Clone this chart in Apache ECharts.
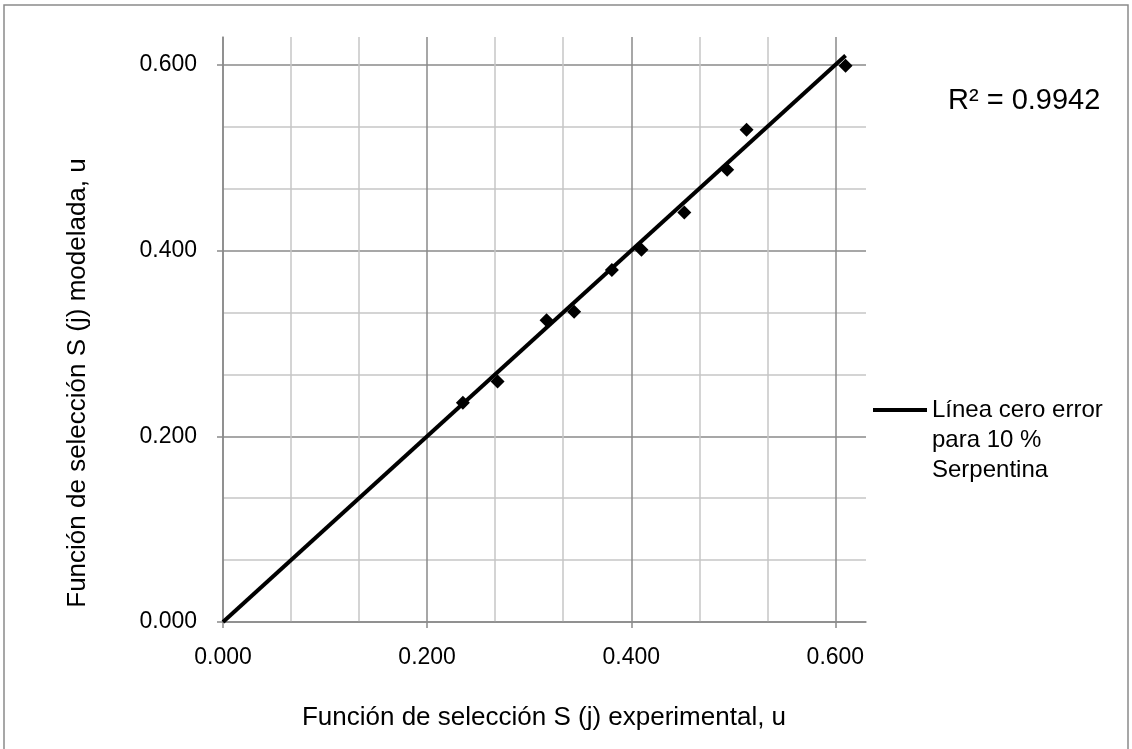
<!DOCTYPE html>
<html>
<head>
<meta charset="utf-8">
<script src="https://cdn.jsdelivr.net/npm/echarts@6/dist/echarts.min.js"></script>
<style>
  html, body { margin: 0; padding: 0; background: #ffffff; }
  #chart { width: 1132px; height: 749px; }
</style>
</head>
<body>
<div id="chart"></div>
<script>
// Experimental vs. modelled selection function S(j)
const experimental = [0.235, 0.269, 0.317, 0.344, 0.381, 0.410, 0.452, 0.494, 0.513, 0.610];
const modelled     = [0.236, 0.259, 0.325, 0.334, 0.379, 0.401, 0.441, 0.487, 0.530, 0.599];

// Zero-error reference line (y = x)
const zeroLineX = [0, 0.61];
const zeroLineY = [0, 0.61];

const tickValues = [0, 0.2, 0.4, 0.6];
const rSquared = 0.9942;

const xTitle = 'Función de selección S (j) experimental, u';
const yTitle = 'Función de selección S (j) modelada, u';
const lineName = 'Línea cero error para 10 % Serpentina';
const pointsName = 'Serpentina 10 %';

const axisMax = 0.63;
const gridStep = 0.2 / 3;

const MAJOR = '#8a8a8a';
const MINOR = '#c6c6c6';
const FONT = '"Liberation Sans", Arial, sans-serif';

// Grid axis: carries the fine (major + minor) split lines and the axis line
function gridAxis(position) {
  return {
    type: 'value',
    position: position,
    min: 0,
    max: axisMax,
    interval: gridStep,
    axisLine: { show: true, onZero: false, lineStyle: { color: MAJOR, width: 1.5 } },
    axisTick: { show: false },
    axisLabel: { show: false },
    splitLine: {
      show: true,
      showMaxLine: false,
      lineStyle: { color: [MAJOR, MINOR, MINOR], width: 1.5 }
    }
  };
}

// Label axis: outward ticks and labels at the major values only
function labelAxis(position, margin) {
  return {
    type: 'value',
    position: position,
    min: 0,
    max: axisMax,
    interval: 0.2,
    axisLine: { show: false, onZero: false },
    axisTick: { show: true, customValues: tickValues, length: 6, lineStyle: { color: MAJOR, width: 1.5 } },
    axisLabel: {
      customValues: tickValues,
      formatter: v => v.toFixed(3),
      color: '#000000',
      fontFamily: FONT,
      fontSize: 23,
      margin: margin
    },
    splitLine: { show: false }
  };
}

const chart = echarts.init(document.getElementById('chart'), null, { renderer: 'canvas' });

chart.setOption({
  animation: false,
  backgroundColor: '#ffffff',
  grid: { left: 223, top: 37, right: 266, bottom: 127, containLabel: false },
  xAxis: [gridAxis('bottom'), labelAxis('bottom', 24)],
  yAxis: [gridAxis('left'), labelAxis('left', 26)],
  legend: {
    data: [{ name: lineName, icon: 'rect' }],
    orient: 'vertical',
    left: 868,
    top: 330,
    itemWidth: 54,
    itemHeight: 4,
    itemGap: 0,
    // two leading blank lines keep the first text line level with the key
    formatter: () => '\n\nLínea cero error\npara 10 %\nSerpentina',
    textStyle: {
      fontFamily: FONT,
      fontSize: 24,
      lineHeight: 30,
      color: '#000000'
    },
    itemStyle: { color: '#000000' },
    selectedMode: false
  },
  graphic: [
    {
      type: 'rect',
      silent: true,
      shape: { x: 4, y: 5, width: 1124, height: 760 },
      style: { fill: 'none', stroke: '#8a8a8a', lineWidth: 1.5 }
    },
    {
      type: 'text',
      left: 948,
      top: 86,
      style: { text: 'R² = ' + rSquared.toFixed(4), font: '29px ' + FONT, fill: '#000000' }
    },
    {
      type: 'text',
      x: 544,
      y: 718,
      style: { text: xTitle, font: '26px ' + FONT, fill: '#000000', align: 'center', verticalAlign: 'middle' }
    },
    {
      type: 'text',
      x: 78,
      y: 383,
      rotation: Math.PI / 2,
      style: { text: yTitle, font: '26px ' + FONT, fill: '#000000', align: 'center', verticalAlign: 'middle' }
    }
  ],
  series: [
    {
      name: lineName,
      type: 'line',
      xAxisIndex: 0,
      yAxisIndex: 0,
      data: zeroLineX.map((x, i) => [x, zeroLineY[i]]),
      showSymbol: false,
      symbol: 'none',
      lineStyle: { color: '#000000', width: 4 },
      itemStyle: { color: '#000000' },
      z: 3
    },
    {
      name: pointsName,
      type: 'scatter',
      xAxisIndex: 0,
      yAxisIndex: 0,
      data: experimental.map((x, i) => [x, modelled[i]]),
      symbol: 'diamond',
      symbolSize: 14,
      itemStyle: { color: '#000000', opacity: 1 },
      z: 4
    }
  ]
});
</script>
</body>
</html>
